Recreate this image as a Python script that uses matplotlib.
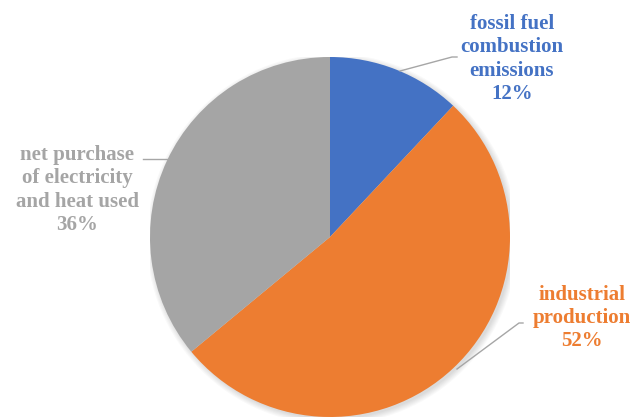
import matplotlib.pyplot as plt
from matplotlib.patches import Circle

# Emission sources, clockwise from 12 o'clock
labels = ["fossil fuel\ncombustion\nemissions", "industrial\nproduction", "net purchase\nof electricity\nand heat used"]
shares = [12, 52, 36]
colors = ["#4472C4", "#ED7D31", "#A5A5A5"]

W, H = 643, 419
fig = plt.figure(figsize=(W / 100, H / 100), dpi=100)
cx, cy, r = 330, 237, 180
ax = fig.add_axes([(cx - r) / W, 1 - (cy + r) / H, 2 * r / W, 2 * r / H])
ax.set_aspect("equal")
ax.axis("off")

# soft shadow behind the pie
for i in range(6):
    ax.add_patch(Circle((0.012, -0.012), 1.0 + 0.006 * i, color="black",
                        alpha=0.025, lw=0, zorder=0))

ax.pie(shares, colors=colors, startangle=90, counterclock=False, radius=1,
       wedgeprops=dict(linewidth=0), frame=False)
ax.set_xlim(-1, 1)
ax.set_ylim(-1, 1)


def px(x, y):
    # figure pixel -> pie data coordinates
    return ((x - cx) / r, (cy - y) / r)


line_kw = dict(color="#A6A6A6", lw=1.0, zorder=3, clip_on=False)

# leader lines
p = [px(400, 71), px(452, 57), px(457, 57)]
ax.plot([q[0] for q in p], [q[1] for q in p], **line_kw)
p = [px(457, 369), px(519, 323), px(523, 323)]
ax.plot([q[0] for q in p], [q[1] for q in p], **line_kw)
p = [px(143, 159), px(168, 159)]
ax.plot([q[0] for q in p], [q[1] for q in p], **line_kw)

txt_kw = dict(ha="center", va="center", fontsize=15, fontweight="bold",
              family="Liberation Serif", linespacing=1.22)
label_pos = [(512, 59), (582, 318), (77, 190)]
for lab, s, c, (x, y) in zip(labels, shares, colors, label_pos):
    fig.text(x / W, 1 - y / H, f"{lab}\n{s}%", color=c, **txt_kw)

fig.savefig("out.png", dpi=100)
